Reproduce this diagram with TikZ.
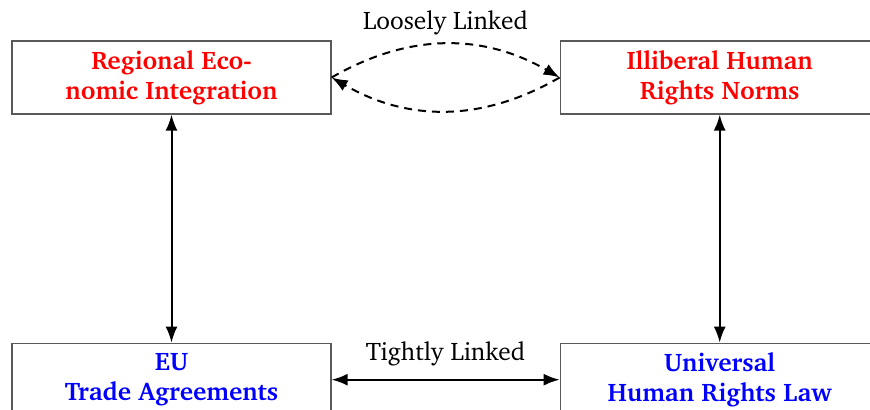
\documentclass[tikz,border=0pt]{standalone}
\usepackage[T1]{fontenc}
\usepackage{charter}
\usepackage{tikz}
\usetikzlibrary{arrows.meta, positioning}

\begin{document}
\begin{tikzpicture}[
    x=0.5pt, y=0.5pt,
    node distance=114pt,
    box/.style={rectangle, draw=black!65, line width=0.6pt, minimum width=159.5pt, minimum height=36.5pt, align=center, font=\fontsize{12.7}{15}\selectfont\bfseries},
    arrow/.style={{Latex[length=8pt,width=6pt]}-{Latex[length=8pt,width=6pt]}, line width=1pt},
    link/.style={font=\fontsize{12.7}{15}\selectfont}
]
    \useasboundingbox (0,0) rectangle (870,410);

    \node[box, text=red] (integration) at (171.5,332.5) {Regional Eco-\\nomic Integration};
    \node[box, text=red, right=of integration] (norms) {Illiberal Human\\Rights Norms};
    \node[box, text=blue, below=of integration] (agreements) {EU\\Trade Agreements};
    \node[box, text=blue, below=of norms] (law) {Universal\\Human Rights Law};

    % loose link between the red boxes
    \draw[line width=1pt, dash pattern=on 4pt off 3pt, -{Latex[length=8pt,width=6pt]}] (integration.east) to[bend left=30] node[link, above=1pt] {Loosely Linked} (norms.west);
    \draw[line width=1pt, dash pattern=on 4pt off 3pt, -{Latex[length=8pt,width=6pt]}] (norms.west) to[bend left=30] (integration.east);

    \draw[arrow] (integration) -- (agreements);
    \draw[arrow] (norms) -- (law);
    \draw[arrow] (agreements) -- node[link, above=3pt] {Tightly Linked} (law);
\end{tikzpicture}
\end{document}
